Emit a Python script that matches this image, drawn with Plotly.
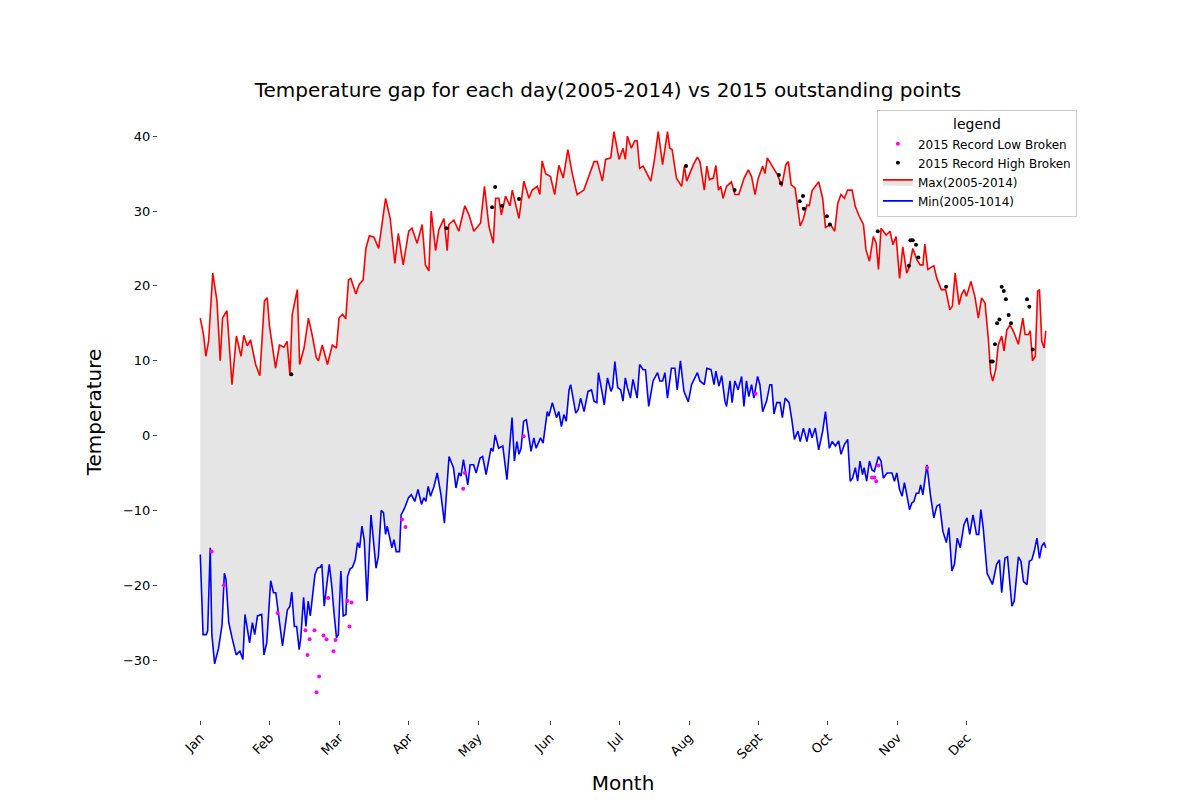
import plotly.graph_objects as go

# daily max / min record temperatures 2005-2014 (day of year, value)
max_days = [0, 1.4, 2.4, 3.6, 5.4, 7.2, 8.6, 9.6, 11.5, 13.7, 15.6, 17.6, 18.8, 20.3, 21.7, 23.9, 25.7, 27.7, 28.9, 29.9,
            32.5, 34.2, 36.1, 37.5, 38.7, 39.7, 41.9, 42.9, 44.8, 46.7, 48.4, 50.1, 51, 52.7, 54.9, 57, 58.8, 59.9, 61.4, 62.8,
            64, 65, 67.2, 68.6, 70.3, 71.5, 73, 75, 77, 79, 80, 82, 84, 85.5, 87.6, 90, 91.4, 93.6, 95.8, 97.2,
            98.7, 99.7, 101.6, 103, 105.2, 106.6, 107.3, 109.5, 111.6, 114.2, 116, 118.1, 121, 122.7, 124.6, 126.5, 127.5, 128.9, 130, 131.8,
            133.7, 134.7, 137.6, 139.7, 141.9, 143.3, 145.5, 146.6, 147.6, 149.1, 151.2, 153, 154.8, 156.7, 158.7, 160.6, 162.7, 165.6, 167.8, 170,
            171.4, 173.6, 175, 177.2, 178.6, 180.8, 182.5, 183.5, 184.4, 186.1, 187.6, 188.6, 189.7, 191.2, 194.5, 196.2, 197.7, 199.6, 201.7, 202.7,
            203.7, 205.6, 207.8, 209, 210, 212.9, 214.6, 215.7, 217.6, 218.7, 219.8, 221.5, 222.6, 223.7, 224.7, 225.7, 227.2, 229.3, 230.8, 232.5,
            234.8, 236.6, 238, 239.5, 240.9, 242.8, 243.8, 244.8, 247.9, 249.3, 251, 252.8, 253.9, 255.1, 256.8, 259, 260.4, 261.9, 262.9, 264.1,
            267, 268.7, 269.9, 272.1, 273.9, 275.2, 276.6, 278.1, 279.5, 281.4, 282.8, 284.5, 286.3, 287.4, 288.9, 290.6, 291.8, 292.8, 293.9, 296.1,
            297.8, 299, 300.4, 301.9, 303.3, 305, 306.2, 307.6, 309.4, 310.8, 312, 312.8, 314.1, 315.3, 316.7, 318, 319.9, 321.8, 323.6, 324.7,
            325.9, 327.6, 328.6, 329.8, 330.8, 332.7, 334.4, 335.9, 337.3, 338.8, 340.2, 341.2, 342.1, 343.4, 344.5, 346, 347, 348.2, 349.6, 351.1,
            353.2, 355.1, 356.1, 357.5, 358.3, 359.3, 360.5, 361.5, 362.3, 363.3, 364.3, 365]
max_vals = [15.7, 13.5, 10.6, 12.6, 21.7, 18, 10, 15.7, 16.7, 6.8, 13.3, 10.6, 13.4, 12, 12.8, 9.5, 8, 18, 18.4, 14.6,
            9, 12.1, 11.8, 12.6, 8, 16.2, 19.5, 9.5, 11.7, 15.7, 13.3, 10.4, 10, 12.1, 9.5, 12.1, 11.7, 15.7, 16.2, 15.6,
            20.8, 21, 18.9, 20.2, 20.8, 25, 26.7, 26.5, 25, 30, 31.7, 29, 23, 27, 22.8, 27.3, 27.7, 25.7, 28.2, 22.8,
            22, 30, 24.7, 27.5, 29, 24.7, 28.2, 28.8, 27.3, 30.7, 29.5, 27.3, 28.4, 33.3, 28, 25.7, 31.7, 31.7, 29.5, 32,
            30.7, 32.8, 29, 34, 31.7, 32.8, 33.3, 32.2, 36.7, 35, 34.6, 32.2, 36.1, 34.4, 38.2, 35, 32.2, 32.8, 34.8, 36.6,
            36.6, 34, 36.9, 37.1, 40.6, 36.9, 38.4, 36.9, 40, 38.4, 39.4, 39.4, 35.7, 36, 34, 37.1, 40.6, 36.2, 40.6, 38.4,
            38.2, 34.4, 33.3, 36, 34, 36.2, 37.2, 36.6, 32.8, 36, 34.2, 34.4, 36.1, 32.8, 33.3, 31.7, 33.3, 33.9, 32.2, 32.2,
            34.4, 35.5, 34.6, 32.2, 34.4, 36, 35, 37.1, 35.5, 34.8, 33.3, 36.2, 36.6, 33.5, 33.1, 28, 29, 30.8, 30.7, 32.7,
            33.9, 31.7, 27.8, 28.2, 27.3, 31, 32.2, 31.7, 32.8, 32.8, 30.6, 29.3, 28.2, 24.8, 23.3, 26.6, 25.7, 22.2, 27.7, 26.8,
            27.3, 25.5, 26.6, 21, 25.2, 21.7, 22.6, 25, 23.5, 22.8, 22.8, 25.6, 22.2, 22.4, 22.7, 21, 19.5, 19.5, 16.8, 17.3,
            21.7, 17.5, 18.8, 19.5, 18.6, 20.6, 18.6, 15.7, 18.4, 17.7, 13, 8.4, 7.3, 8.8, 12.1, 13.3, 11.3, 14.1, 14.8, 13.9,
            12.2, 15.7, 13.5, 13.5, 14, 10, 10.6, 19.3, 19.5, 12.6, 11.7, 14]

min_days = [0, 1.2, 2.6, 3.2, 4.3, 5, 6.2, 7.9, 9.4, 10.4, 11.1, 12.3, 13.7, 15.5, 17.1, 18.4, 19.3, 21.3, 22.5, 23.5,
            24.7, 26.5, 27.5, 28.7, 30.4, 31.6, 32.6, 34, 35.5, 37.6, 38.7, 39.5, 40.6, 41.6, 42.7, 43.4, 44.6, 45.6, 46.6, 47.5,
            49.5, 50.6, 51.8, 52.5, 53.5, 55.7, 56.7, 57.8, 58.8, 59.6, 60.7, 61.7, 62.9, 63.6, 64.7, 65.7, 66.9, 67.9, 68.8, 69.8,
            70.8, 72, 73.7, 75.9, 76.9, 78.1, 79.1, 80, 80.7, 81.7, 82.7, 83.6, 84.6, 86, 86.7, 88.2, 89.9, 91.1, 92.6, 94,
            95.5, 96.5, 97.4, 98.4, 99.4, 100.9, 102.3, 103.9, 105.4, 107.4, 109.3, 110.4, 111.7, 112.6, 113.6, 115.5, 116.5, 118, 119.1, 120.8,
            121.9, 123.4, 125.5, 126.4, 127.3, 128.8, 130.6, 132.4, 134.6, 135.6, 136.7, 137.6, 138.5, 139.6, 140.8, 142.8, 144, 145, 146.9, 148,
            149.8, 150.5, 152, 153.8, 154.8, 155.9, 157, 158, 159.2, 159.9, 162.1, 163.2, 164.2, 165.7, 167.4, 168.9, 170, 171.2, 171.9, 173.4,
            174.4, 175.8, 177.3, 178, 179, 180.2, 181.5, 182.5, 183.5, 184.4, 185.7, 186.8, 188.6, 189.7, 191.2, 192.2, 193.6, 195.5, 197.4, 198.4,
            199.6, 200.6, 201.7, 203.4, 204.9, 205.9, 207.3, 208.8, 210.7, 212.1, 214.6, 215.7, 217.6, 218.7, 220.5, 221.8, 222.6, 223.9, 225.1, 226.5,
            227.2, 228.7, 229.6, 230.8, 232.2, 233.7, 234.7, 235.8, 236.8, 238, 239, 240.6, 241.6, 242.8, 244.5, 245.9, 246.7, 247.7, 248.9, 250.3,
            251.3, 252.5, 254.2, 255.4, 256.5, 258, 259, 260.4, 261.9, 263, 264.1, 265.5, 267, 268.7, 269.9, 271.6, 272.8, 274.2, 275.6, 276.6,
            278.1, 279.5, 280.6, 281.6, 282.8, 283.8, 284.8, 285.9, 286.6, 287.7, 288.9, 290, 291, 292.8, 293.9, 294.9, 296.5, 298.6, 299.7, 300.7,
            301.9, 303, 304, 305, 306.2, 307.2, 308.1, 309.1, 310.2, 311, 312, 313.7, 315.2, 316.7, 318, 319.2, 320.6, 322.1, 323.2, 324.5,
            325.6, 326.8, 328.1, 329.7, 331, 332.2, 333.6, 335.1, 336.1, 337, 338, 339.7, 340.9, 342, 343.8, 345, 346, 347.4, 348.5, 349.6,
            350.4, 351.4, 352.2, 353.2, 354.3, 355.4, 356.9, 357.9, 359, 360, 361.2, 362.3, 363.3, 364.3, 365]
min_vals = [-15.9, -26.6, -26.6, -26.1, -15, -26.6, -30.5, -28.4, -25.3, -18.4, -19.2, -25, -27, -29.3, -28.8, -29.9, -23.9, -27.7, -25, -26.6,
            -24.1, -23.9, -29.3, -27.7, -19.4, -21, -21, -24.8, -28.1, -23.3, -22.8, -20.9, -25.5, -25.5, -28.6, -27, -21.6, -25.5, -22.1, -24.1,
            -18.6, -17.7, -17.6, -17.2, -22.8, -17.2, -19.9, -23.9, -27, -26.6, -18.1, -24.1, -23.9, -18.8, -17.8, -17.6, -16.6, -14.3, -15, -12.1,
            -14, -22.1, -10.6, -17.7, -16.1, -10, -10.3, -13.2, -12.1, -13.5, -15, -13.9, -15.5, -15.5, -10.6, -9.7, -8.3, -7.9, -8.8, -7.2,
            -9.2, -8.3, -8.8, -6.8, -8.1, -6.8, -5, -7.9, -11.7, -2.8, -4.3, -7, -5, -5.4, -3.2, -6.6, -3.9, -3.9, -5, -3,
            -2.8, -5.2, -1.7, -2.1, 0.1, -1.7, -1.4, -5.9, 2.4, -3.4, -0.8, -2.5, -1.7, 1.9, 2.1, -2.1, -0.3, -1.7, -0.3, -1,
            3.2, 2.6, 4.4, 2.4, 3.2, 1.2, 2.8, 1.9, 6.1, 6.8, 3, 3.5, 5, 3.2, 5.9, 6.1, 4.6, 4.4, 8.4, 5.9,
            4.1, 7.7, 5.9, 6.4, 9.9, 6.4, 6.1, 4.6, 7.7, 6.4, 5, 7.5, 5, 9.5, 8.8, 8.8, 3.9, 7.3, 8.4, 7.3,
            7.3, 8.4, 5, 9, 9, 6.1, 10, 5.9, 4.5, 6.8, 8.4, 7.3, 6.8, 9, 8.8, 6.8, 8.6, 6.6, 8, 4.6,
            3.9, 7.3, 4.4, 7.3, 6.1, 7.9, 3.9, 7.3, 5.2, 6.8, 5, 7.9, 6.8, 3.2, 4.6, 6.8, 6.8, 2.9, 4.4, 4.4,
            2.4, 5, 4.4, 2.1, -0.5, 0.6, -0.8, 1, -0.8, 1, -0.3, 1, -1.9, 0.6, 3.2, -1.7, -0.8, -1.4, -0.7, -2.5,
            -1.2, -0.5, -6.1, -5.7, -4.3, -6.1, -3.4, -5.2, -4.3, -6.1, -3.4, -4.6, -4.8, -2.8, -3.4, -5.7, -5, -5, -6.1, -5,
            -7.2, -8.1, -6.3, -7.9, -9.9, -9, -8.8, -7.7, -7.7, -6.6, -7.9, -3.9, -7.9, -11, -9.4, -9.2, -12.8, -14.3, -12.3, -18.1,
            -17.2, -13.7, -15, -11.9, -11, -13.2, -10.6, -13.2, -13.2, -9.9, -12.3, -18.4, -19.2, -19.9, -17.2, -16.6, -21, -16.4, -16.2, -20.4,
            -22.8, -22.1, -19.2, -16.2, -16.8, -19.5, -19.9, -16.8, -16.6, -15.5, -13.7, -16.4, -14.8, -14.3, -15]

# 2015 days that broke the 2005-2014 records
high_days = [39.3, 106.3, 126, 127.3, 130.3, 137.6, 209.7, 230.7, 249.8, 250.7, 258.8, 260.2, 260.6, 270.5, 271.8,
             292.5, 305.9, 306.6, 307.6, 309, 310, 322, 341.4, 342.1, 343.1, 344, 345, 346, 346.9, 347.8, 349, 350,
             356.9, 357.9, 359.4]
high_vals = [8.2, 27.7, 30.5, 33.2, 30.7, 31.6, 36, 32.8, 34.8, 33.7, 31.3, 32, 30.3, 29.3, 28.2,
             27.3, 22.7, 26.1, 26.1, 25.5, 23.8, 19.9, 9.9, 9.9, 12.2, 15, 15.5, 19.9, 19.3, 18.2, 16.1, 15,
             18.2, 17.2, 11.5]
low_days = [4.9, 10.2, 33.4, 45.4, 46.3, 47.2, 49.3, 50.2, 51.3, 53.2, 54.5, 55.2, 57.5, 58.4, 63.5, 64.4, 65.3,
            87.1, 88.6, 113.5, 114.2, 139.6, 239.7, 290, 291, 291.8, 292.8, 313.8]
low_vals = [-15.5, -20, -23.7, -26, -29.3, -27.2, -26, -34.3, -32.2, -26.7, -27.2, -21.7, -28.8, -27.3, -22.1, -25.5, -22.3,
            -11.2, -12.2, -7.1, -5, -0.1, 5.6, -5.6, -5.6, -6.1, -4, -4.3]

month_ticks = [0, 30, 60, 90, 120, 151, 181, 211, 241, 271, 301, 331]
month_names = ["Jan", "Feb", "Mar", "Apr", "May", "Jun", "Jul", "Aug", "Sept", "Oct", "Nov", "Dec"]

fig = go.Figure()
fig.add_trace(go.Scatter(x=min_days, y=min_vals, mode="lines", name="Min(2005-1014)",
                         line=dict(color="blue", width=1.6)))
fig.add_trace(go.Scatter(x=max_days, y=max_vals, mode="lines", name="Max(2005-2014)",
                         line=dict(color="red", width=1.6), fill="tonexty", fillcolor="rgba(211,211,211,0.6)"))
fig.add_trace(go.Scatter(x=high_days, y=high_vals, mode="markers", name="2015 Record High Broken",
                         marker=dict(color="black", size=4)))
fig.add_trace(go.Scatter(x=low_days, y=low_vals, mode="markers", name="2015 Record Low Broken",
                         marker=dict(color="magenta", size=4)))

fig.update_layout(
    width=1200, height=800,
    margin=dict(l=150, r=120, t=96, b=88),
    paper_bgcolor="white", plot_bgcolor="white",
    font=dict(family="DejaVu Sans", color="black", size=13),
    title=dict(text="Temperature gap for each day(2005-2014) vs 2015 outstanding points",
               x=0.5, xanchor="center", y=0.898, yanchor="middle", font=dict(size=20)),
    legend=dict(title=dict(text="legend", side="top center"), x=0.773, y=0.99, xanchor="left", yanchor="top",
                bgcolor="white", bordercolor="#cccccc", borderwidth=1, font=dict(size=12)),
)
fig.update_xaxes(range=[-18.25, 383.25], tickvals=month_ticks, ticktext=month_names, tickangle=-45,
                 showgrid=False, zeroline=False, showline=False, ticks="outside", ticklen=4,
                 title=dict(text="Month", font=dict(size=20)))
fig.update_yaxes(range=[-38, 44.3], tickvals=[-30, -20, -10, 0, 10, 20, 30, 40],
                 showgrid=False, zeroline=False, showline=False, ticks="outside", ticklen=4,
                 title=dict(text="Temperature", font=dict(size=20)))

fig.write_html("out.html")
